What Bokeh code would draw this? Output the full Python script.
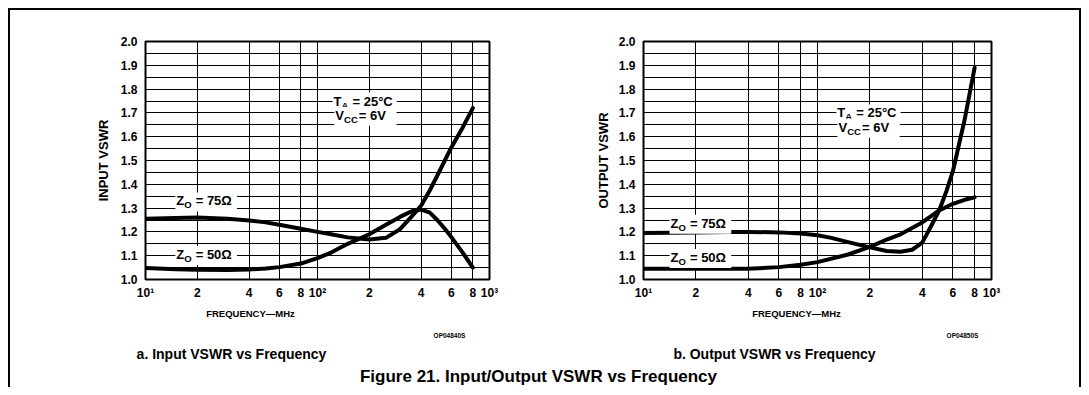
from bokeh.plotting import figure
from bokeh.layouts import row, column
from bokeh.models import Range1d, FixedTicker, PrintfTickFormatter, Label
from bokeh.embed import file_html
from bokeh.resources import INLINE

# ---------------- data ----------------
freq_in_75 = [10, 15, 20, 30, 40, 50, 60, 80, 100, 120, 150, 200, 250, 300, 350, 400, 450, 500, 600, 700, 800]
vswr_in_75 = [1.255, 1.258, 1.26, 1.255, 1.248, 1.24, 1.23, 1.213, 1.2, 1.19, 1.177, 1.168, 1.175, 1.21,
              1.262, 1.31, 1.375, 1.44, 1.555, 1.64, 1.72]
freq_in_50 = [10, 15, 20, 30, 40, 50, 60, 80, 100, 120, 150, 200, 250, 300, 350, 400, 450, 500, 550, 600, 700, 800]
vswr_in_50 = [1.048, 1.043, 1.041, 1.04, 1.042, 1.046, 1.052, 1.067, 1.09, 1.113, 1.15, 1.19, 1.23, 1.262,
              1.286, 1.294, 1.281, 1.248, 1.213, 1.178, 1.112, 1.05]
freq_out_75 = [10, 20, 30, 40, 60, 80, 100, 120, 150, 200, 250, 300, 350, 400, 450, 500, 550, 600, 700, 800]
vswr_out_75 = [1.195, 1.197, 1.2, 1.2, 1.198, 1.193, 1.186, 1.175, 1.157, 1.135, 1.12, 1.117, 1.125, 1.155,
               1.225, 1.29, 1.37, 1.455, 1.67, 1.89]
freq_out_50 = [10, 20, 40, 60, 80, 100, 150, 200, 250, 300, 400, 500, 600, 700, 800]
vswr_out_50 = [1.045, 1.045, 1.045, 1.052, 1.062, 1.073, 1.105, 1.137, 1.168, 1.19, 1.24, 1.29, 1.318, 1.335, 1.345]

x_ticks = [10, 20, 40, 60, 80, 100, 200, 400, 600, 800, 1000]
x_tick_labels = ["10\u00b9", "2", "4", "6", "8", "10\u00b2", "2", "4", "6", "8", "10\u00b3"]
y_major = [1.0, 1.1, 1.2, 1.3, 1.4, 1.5, 1.6, 1.7, 1.8, 1.9, 2.0]
y_minor = [1.05, 1.15, 1.25, 1.35, 1.45, 1.55, 1.65, 1.75, 1.85, 1.95]

# annotation anchors (data units): (freq, vswr)
in_notes = {"ta": (124, 1.75), "vcc": (127, 1.69), "z75": (15.1, 1.33), "z50": (15.1, 1.105)}
out_notes = {"ta": (130, 1.70), "vcc": (132, 1.64), "z75": (14.3, 1.236), "z50": (14.3, 1.092)}

FONT = "Liberation Sans"


def make_chart(ylabel, b_left, b_right, width, y_lab_standoff):
    p = figure(width=width, height=293, x_axis_type="log",
               x_range=Range1d(10, 1000), y_range=Range1d(1.0, 2.0),
               output_backend="svg", toolbar_location=None,
               min_border_left=b_left, min_border_right=b_right,
               min_border_top=31, min_border_bottom=24,
               background_fill_color="white", border_fill_color="white")
    p.outline_line_color = "black"
    p.outline_line_width = 2
    xt = FixedTicker(ticks=x_ticks)
    p.xaxis.ticker = xt
    p.xgrid.ticker = xt
    p.xaxis.major_label_overrides = {t: l for t, l in zip(x_ticks, x_tick_labels)}
    p.yaxis.ticker = FixedTicker(ticks=y_major, minor_ticks=y_minor)
    p.yaxis.formatter = PrintfTickFormatter(format="%.1f")
    for ax in (p.xaxis[0], p.yaxis[0]):
        ax.axis_line_color = None
        ax.major_tick_line_color = None
        ax.minor_tick_line_color = None
        ax.major_tick_out = 0
        ax.major_tick_in = 0
        ax.minor_tick_out = 0
        ax.minor_tick_in = 0
        ax.major_label_text_font = FONT
        ax.major_label_text_font_style = "bold"
        ax.major_label_text_font_size = "12px"
        ax.major_label_text_color = "black"
    p.xaxis.major_label_standoff = 6
    p.yaxis.major_label_standoff = 8
    p.yaxis.axis_label = ylabel
    p.yaxis.axis_label_text_font = FONT
    p.yaxis.axis_label_text_font_style = "bold"
    p.yaxis.axis_label_text_font_size = "13px"
    p.yaxis.axis_label_text_color = "black"
    p.yaxis.axis_label_standoff = y_lab_standoff
    p.xgrid.grid_line_color = "black"
    p.xgrid.grid_line_width = 1
    p.ygrid.grid_line_color = "black"
    p.ygrid.grid_line_width = 1
    p.ygrid.minor_grid_line_color = "black"
    p.ygrid.minor_grid_line_width = 1
    return p


def sub_label(p, anchor, main, sub, rest, main_w, sub_w, gap):
    x, y = anchor
    common = dict(x=x, y=y, text_font=FONT, text_font_style="bold",
                  text_baseline="middle", text_align="left")
    # white box behind the whole note so grid lines do not cross it
    p.add_layout(Label(text=main + sub + "\u00a0" + rest, x_offset=-1, y_offset=-1, text_font_size="13px",
                       text_color="white", background_fill_color="white", padding=2, **common))
    p.add_layout(Label(text=main, x_offset=0, y_offset=0, text_font_size="13px", text_color="black", **common))
    p.add_layout(Label(text=sub, x_offset=main_w, y_offset=-4, text_font_size="9.5px", text_color="black", **common))
    p.add_layout(Label(text=rest, x_offset=main_w + sub_w + gap, y_offset=0, text_font_size="13px",
                       text_color="black", **common))


def add_notes(p, notes):
    sub_label(p, notes["ta"], "T", "A", "= 25\u00b0C", 7.9, 7.0, 4)
    sub_label(p, notes["vcc"], "V", "CC", "= 6V", 8.7, 13.8, 1)
    sub_label(p, notes["z75"], "Z", "O", "= 75\u03a9", 7.9, 7.5, 4)
    sub_label(p, notes["z50"], "Z", "O", "= 50\u03a9", 7.9, 7.5, 4)


def screen_text(p, text, x, y, size, style="bold"):
    p.add_layout(Label(text=text, x=x, y=y, x_units="screen", y_units="screen",
                       text_font=FONT, text_font_style=style, text_font_size=size,
                       text_color="black", text_align="center", text_baseline="middle"))


# left chart: input VSWR
p1 = make_chart("INPUT VSWR", 135, 56, 535, 7)
p1.line(freq_in_75, vswr_in_75, line_width=4, color="black", line_join="round", line_cap="round")
p1.line(freq_in_50, vswr_in_50, line_width=4, color="black", line_join="round", line_cap="round")
add_notes(p1, in_notes)

# right chart: output VSWR
p2 = make_chart("OUTPUT VSWR", 98, 88, 534, 5)
p2.line(freq_out_75, vswr_out_75, line_width=4, color="black", line_join="round", line_cap="round")
p2.line(freq_out_50, vswr_out_50, line_width=4, color="black", line_join="round", line_cap="round")
add_notes(p2, out_notes)

# caption strip below both charts
p3 = figure(width=1069, height=84, x_axis_type=None, y_axis_type=None,
            x_range=Range1d(0, 1), y_range=Range1d(0, 1),
            output_backend="svg", toolbar_location=None,
            min_border_left=0, min_border_right=0, min_border_top=0, min_border_bottom=0)
p3.outline_line_color = None
p3.xgrid.visible = False
p3.ygrid.visible = False
screen_text(p3, "FREQUENCY\u2014MHz", 240, 74, "9.5px")
screen_text(p3, "FREQUENCY\u2014MHz", 786, 74, "9.5px")
screen_text(p3, "OP04840S", 439, 52, "6.5px")
screen_text(p3, "OP04850S", 952, 52, "6.5px")
screen_text(p3, "a. Input VSWR vs Frequency", 221, 34, "14px")
screen_text(p3, "b. Output VSWR vs Frequency", 764, 34, "14px")
screen_text(p3, "Figure 21. Input/Output VSWR vs Frequency", 528, 11, "17px")

layout = column(row(p1, p2), p3,
                styles={"margin-left": "8px", "margin-top": "8px",
                        "border-top": "2px solid black", "border-left": "2px solid black",
                        "border-right": "2px solid black"})

open("out.html", "w").write(file_html(layout, INLINE))
